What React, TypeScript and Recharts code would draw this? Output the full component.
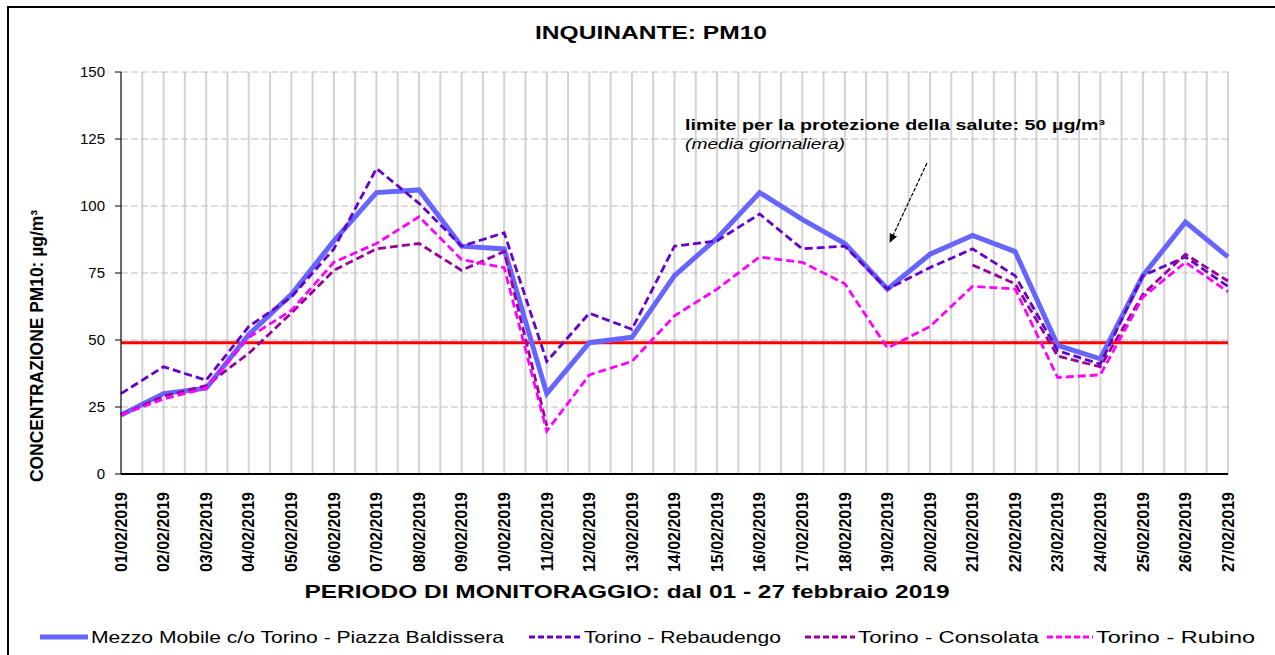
import React from "react";
import {
  LineChart,
  Line,
  XAxis,
  YAxis,
  CartesianGrid,
  ReferenceLine,
  Legend,
} from "recharts";

const dates = [
  "01/02/2019", "02/02/2019", "03/02/2019", "04/02/2019", "05/02/2019",
  "06/02/2019", "07/02/2019", "08/02/2019", "09/02/2019", "10/02/2019",
  "11/02/2019", "12/02/2019", "13/02/2019", "14/02/2019", "15/02/2019",
  "16/02/2019", "17/02/2019", "18/02/2019", "19/02/2019", "20/02/2019",
  "21/02/2019", "22/02/2019", "23/02/2019", "24/02/2019", "25/02/2019",
  "26/02/2019", "27/02/2019",
];

const mezzoMobile = [22, 30, 32, 52, 67, 87, 105, 106, 85, 84, 30, 49, 51, 74, 88, 105, 95, 86, 69, 82, 89, 83, 48, 43, 74, 94, 81];
const rebaudengo = [30, 40, 35, 55, 66, 84, 114, 101, 85, 90, 42, 60, 54, 85, 87, 97, 84, 85, 69, 77, 84, 74, 46, 41, 74, 81, 70];
const consolata = [22, 29, 33, 45, 60, 76, 84, 86, 76, 83, 18, null, null, null, null, null, null, null, null, null, 78, 71, 44, 40, 67, 82, 72];
const rubino = [22, 28, 32, 51, 61, 79, 86, 96, 80, 77, 16, 37, 42, 59, 69, 81, 79, 71, 47, 55, 70, 69, 36, 37, 66, 79, 68];

const yTicks = [0, 25, 50, 75, 100, 125, 150];
const limitValue = 49;

const series = [
  { key: "mezzo", name: "Mezzo Mobile c/o Torino - Piazza Baldissera", color: "#6666ff", width: 5, dash: undefined },
  { key: "rebaudengo", name: "Torino - Rebaudengo", color: "#6600cc", width: 2.8, dash: "8 4" },
  { key: "consolata", name: "Torino - Consolata", color: "#990099", width: 2.8, dash: "8 4" },
  { key: "rubino", name: "Torino - Rubino", color: "#ff00ff", width: 2.8, dash: "8 4" },
];

// legend item placement (x of line start, line length, stretched text width)
const legendLayout = [
  { x: 40, line: 48, text: 413 },
  { x: 529, line: 52, text: 197 },
  { x: 805, line: 50, text: 181 },
  { x: 1047, line: 46, text: 159 },
];

const data = dates.map((d, i) => ({
  idx: i,
  date: d,
  mezzo: mezzoMobile[i],
  rebaudengo: rebaudengo[i],
  consolata: consolata[i],
  rubino: rubino[i],
}));

// half-step ticks so the vertical grid also gets the in-between lines
const xTicks = dates.flatMap((_, i) => (i < dates.length - 1 ? [i, i + 0.5] : [i]));

const FONT = "'Liberation Sans', Arial, sans-serif";

function DateTick(props: any) {
  const { x, y, payload } = props;
  const v = payload.value;
  if (!Number.isInteger(v)) return <g />;
  return (
    <text
      x={x}
      y={y + 10}
      transform={`rotate(-90, ${x}, ${y + 10})`}
      textAnchor="end"
      dy="0.36em"
      fontSize={16}
      fontWeight="bold"
      fontFamily={FONT}
      fill="#000"
    >
      {dates[v]}
    </text>
  );
}

function LegendBox() {
  return (
    <svg width={1275} height={24} style={{ display: "block" }}>
      {series.map((s, i) => {
        const l = legendLayout[i];
        return (
          <g key={s.key}>
            <line
              x1={l.x}
              y1={12}
              x2={l.x + l.line}
              y2={12}
              stroke={s.color}
              strokeWidth={s.width}
              strokeDasharray={s.dash ? "6 3" : undefined}
            />
            <text
              x={l.x + l.line + 3}
              y={18}
              fontSize={16.5}
              fontFamily={FONT}
              fill="#000"
              textLength={l.text}
              lengthAdjust="spacingAndGlyphs"
            >
              {s.name}
            </text>
          </g>
        );
      })}
    </svg>
  );
}

export default function App() {
  return (
    <div style={{ position: "absolute", left: 0, top: 0, width: 1275, height: 655, background: "#fff", fontFamily: FONT }}>
      <div
        style={{
          position: "absolute",
          left: 7,
          top: 6,
          width: 1300,
          height: 700,
          borderLeft: "2px solid #000",
          borderTop: "2px solid #000",
          boxSizing: "border-box",
        }}
      />
      <LineChart
        width={1275}
        height={655}
        data={data}
        margin={{ top: 72, right: 47, left: 61, bottom: 57 }}
        style={{ position: "absolute", left: 0, top: 0 }}
      >
        <CartesianGrid horizontal={false} vertical stroke="#d3d3d3" strokeWidth={2} />
        <CartesianGrid vertical={false} horizontal stroke="#bcbcbc" strokeDasharray="7 3" />
        <XAxis
          dataKey="idx"
          type="number"
          domain={[0, dates.length - 1]}
          ticks={xTicks}
          interval={0}
          tick={<DateTick />}
          tickLine={false}
          axisLine={{ stroke: "#000", strokeWidth: 2 }}
          height={100}
        />
        <YAxis
          domain={[0, 150]}
          ticks={yTicks}
          interval={0}
          width={60}
          tickSize={6}
          tickMargin={10}
          tick={{ fontSize: 15, fill: "#000", fontFamily: FONT }}
          tickLine={{ stroke: "#000" }}
          axisLine={{ stroke: "#000" }}
        />
        <ReferenceLine y={limitValue} stroke="#ff0000" strokeWidth={3} />
        {series.map((s) => (
          <Line
            key={s.key}
            type="linear"
            dataKey={s.key}
            name={s.name}
            stroke={s.color}
            strokeWidth={s.width}
            strokeDasharray={s.dash}
            dot={false}
            activeDot={false}
            isAnimationActive={false}
          />
        ))}
        <Legend content={<LegendBox />} wrapperStyle={{ left: 0, top: 625, width: 1275 }} />
      </LineChart>
      <svg
        width={1275}
        height={655}
        style={{ position: "absolute", left: 0, top: 0, pointerEvents: "none" }}
      >
        <defs>
          <marker id="arrowHead" markerWidth="10" markerHeight="10" refX="8" refY="5" orient="auto" markerUnits="userSpaceOnUse">
            <path d="M0,1 L9,5 L0,9 Z" fill="#000" />
          </marker>
        </defs>
        <text x={651} y={39} textAnchor="middle" fontSize={18} fontWeight="bold" fontFamily={FONT} textLength={232} lengthAdjust="spacingAndGlyphs">
          INQUINANTE:  PM10
        </text>
        <text
          x={37}
          y={346}
          transform="rotate(-90, 37, 346)"
          textAnchor="middle"
          dy="0.36em"
          fontSize={18}
          fontWeight="bold"
          fontFamily={FONT}
          textLength={272}
          lengthAdjust="spacingAndGlyphs"
        >
          CONCENTRAZIONE PM10: µg/m³
        </text>
        <text x={627} y={598} textAnchor="middle" fontSize={19} fontWeight="bold" fontFamily={FONT} textLength={645} lengthAdjust="spacingAndGlyphs">
          PERIODO DI MONITORAGGIO:  dal 01 - 27 febbraio 2019
        </text>
        <text x={685} y={130} fontSize={15} fontWeight="bold" fontFamily={FONT} textLength={420} lengthAdjust="spacingAndGlyphs">
          limite per la protezione della salute: 50 µg/m³
        </text>
        <text x={685} y={149} fontSize={15} fontStyle="italic" fontFamily={FONT} textLength={160} lengthAdjust="spacingAndGlyphs">
          (media giornaliera)
        </text>
        <line x1={927} y1={163} x2={890} y2={242} stroke="#000" strokeWidth={1.2} strokeDasharray="4 1.5" markerEnd="url(#arrowHead)" />
      </svg>
    </div>
  );
}
